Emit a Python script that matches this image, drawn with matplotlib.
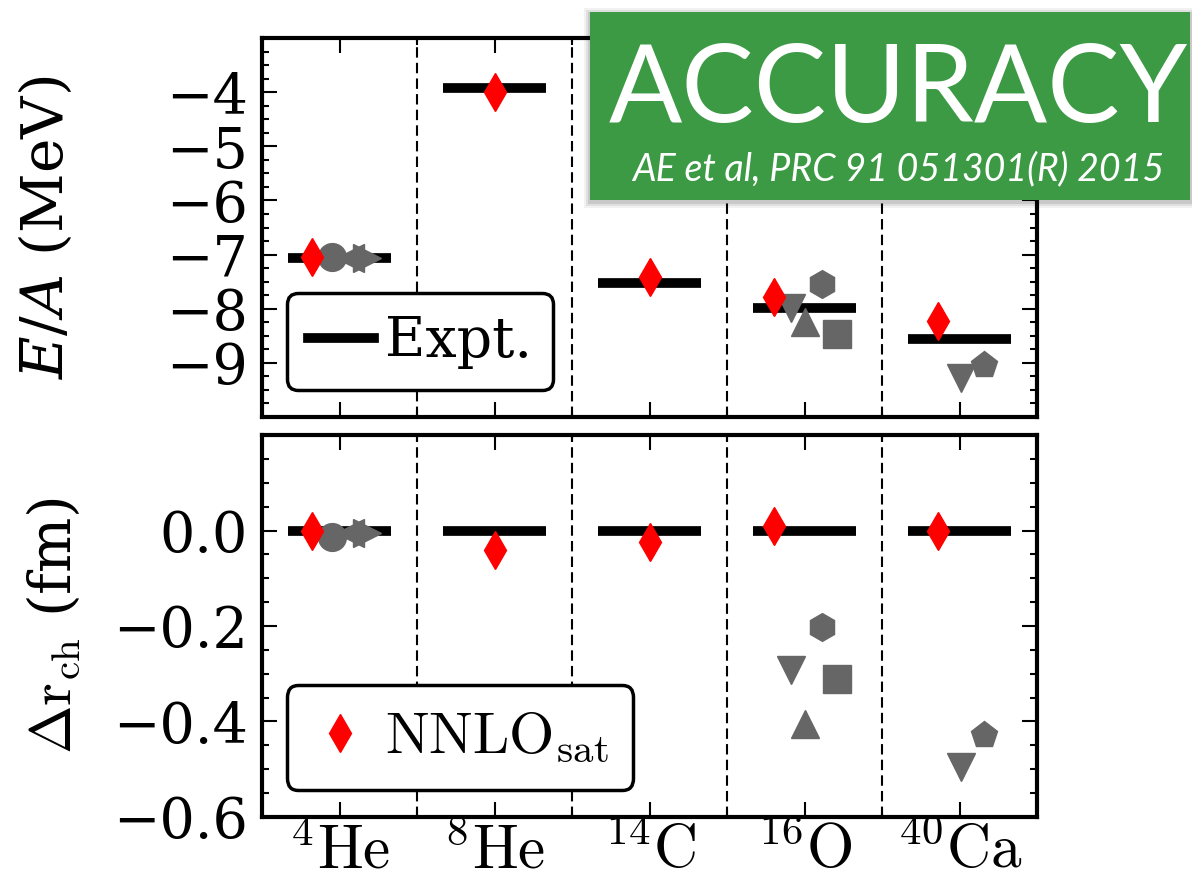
import matplotlib
matplotlib.use("Agg")
import matplotlib.pyplot as plt
from matplotlib.lines import Line2D
from matplotlib.patches import Rectangle
from matplotlib.ticker import FixedLocator, MultipleLocator

plt.rcParams['font.family'] = 'DejaVu Serif'
plt.rcParams['mathtext.fontset'] = 'cm'

nuclei = [r'$^{4}\mathrm{He}$', r'$^{8}\mathrm{He}$', r'$^{14}\mathrm{C}$',
          r'$^{16}\mathrm{O}$', r'$^{40}\mathrm{Ca}$']
pos = [0, 1, 2, 3, 4]

# experiment: E/A in MeV, radii are plotted as differences to expt.
expt_ea = [-7.07, -3.93, -7.52, -7.98, -8.55]
expt_dr = [0.0, 0.0, 0.0, 0.0, 0.0]

# NNLOsat
sat_x = [-0.18, 1.0, 2.0, 2.80, 3.86]
sat_ea = [-7.05, -4.00, -7.42, -7.79, -8.23]
sat_dr = [0.00, -0.04, -0.025, 0.01, 0.00]

# other chiral interactions (grey symbols)
circ_x, circ_ea, circ_dr = [-0.05], [-7.05], [-0.013]
tl_x, tl_ea, tl_dr = [0.07], [-7.06], [-0.006]
tr_x, tr_ea, tr_dr = [0.18], [-7.06], [-0.006]
tdown_x, tdown_ea, tdown_dr = [2.91, 4.01], [-7.98, -9.28], [-0.293, -0.495]
tup_x, tup_ea, tup_dr = [3.0], [-8.25], [-0.405]
sq_x, sq_ea, sq_dr = [3.21], [-8.47], [-0.31]
hex_x, hex_ea, hex_dr = [3.11], [-7.55], [-0.202]
pent_x, pent_ea, pent_dr = [4.16], [-9.04], [-0.428]

grey = '#666666'
others = [('o', circ_x, circ_ea, circ_dr), ('<', tl_x, tl_ea, tl_dr),
          ('>', tr_x, tr_ea, tr_dr), ('v', tdown_x, tdown_ea, tdown_dr),
          ('^', tup_x, tup_ea, tup_dr), ('s', sq_x, sq_ea, sq_dr),
          ('h', hex_x, hex_ea, hex_dr), ('p', pent_x, pent_ea, pent_dr)]

fig = plt.figure(figsize=(11.92, 8.82), dpi=100)
ax1 = fig.add_axes([0.2198, 0.5272, 0.6502, 0.4297])
ax2 = fig.add_axes([0.2198, 0.0737, 0.6502, 0.4331])

for ax, ex, sat, col in [(ax1, expt_ea, sat_ea, 2), (ax2, expt_dr, sat_dr, 3)]:
    for xv in [0.5, 1.5, 2.5, 3.5]:
        ax.axvline(xv, color='k', lw=1.5, ls=(0, (5, 2.5)), zorder=1)
    ax.hlines(ex, [p - 0.33 for p in pos], [p + 0.33 for p in pos],
              color='k', lw=7, zorder=2)
    for m, xs, ea, dr in others:
        ys = ea if col == 2 else dr
        ax.plot(xs, ys, ls='none', marker=m, ms=20, color=grey,
                mec=grey, zorder=3)
    ax.plot(sat_x, sat, ls='none', marker='d', ms=19, color='red',
            mec='red', zorder=4)

    ax.set_xlim(-0.5, 4.5)
    ax.xaxis.set_major_locator(FixedLocator(pos))
    ax.xaxis.set_minor_locator(FixedLocator([0.5, 1.5, 2.5, 3.5]))
    ax.tick_params(which='both', direction='in', top=True, right=True,
                   width=1.5)
    ax.tick_params(which='major', length=11, pad=10, labelsize=40)
    ax.tick_params(which='minor', length=5)
    for s in ax.spines.values():
        s.set_linewidth(3)

ax1.set_ylim(-10, -3)
ax1.yaxis.set_major_locator(FixedLocator([-9, -8, -7, -6, -5, -4]))
ax1.yaxis.set_minor_locator(MultipleLocator(0.25))
ax1.set_xticklabels([])
ax1.set_ylabel(r'$E/A$ (MeV)', fontsize=42, math_fontfamily='dejavuserif')
ax1.yaxis.set_label_coords(-0.241, 0.5)

ax2.set_ylim(-0.6, 0.2)
ax2.yaxis.set_major_locator(FixedLocator([-0.6, -0.4, -0.2, 0.0]))
ax2.yaxis.set_minor_locator(MultipleLocator(0.05))
ax2.set_xticklabels(nuclei, fontsize=44)
ax2.tick_params(axis='x', pad=3)
ax2.set_ylabel(r'$\Delta\mathrm{r}_{\mathrm{ch}}$ (fm)', fontsize=42)
ax2.yaxis.set_label_coords(-0.231, 0.5)

leg1 = ax1.legend([Line2D([], [], color='k', lw=7)], ['Expt.'],
                  loc='lower left', bbox_to_anchor=(0.032, 0.071),
                  borderaxespad=0, fontsize=40, handlelength=1.19,
                  handletextpad=0.2, borderpad=0.38, fancybox=True,
                  framealpha=1, edgecolor='k')
leg1.get_frame().set_linewidth(2.5)

leg2 = ax2.legend([Line2D([], [], ls='none', marker='d', ms=19, color='red')],
                  [r'$\mathrm{NNLO}_{\mathrm{sat}}$'],
                  loc='lower left', bbox_to_anchor=(0.032, 0.071),
                  borderaxespad=0, fontsize=42, handlelength=1.0,
                  handletextpad=0.26, borderpad=0.42, numpoints=1,
                  fancybox=True, framealpha=1, edgecolor='k')
leg2.get_frame().set_linewidth(2.5)

# green banner with a soft shadow
W, H = 1192.0, 882.0
bx0, by0, bx1, by1 = 590, 12, 1190, 200
for i, a in enumerate([0.05, 0.07, 0.1]):
    g = 6 - 2 * i
    fig.patches.append(Rectangle(((bx0 - g) / W, 1 - (by1 + g + 2) / H),
                                 (bx1 - bx0 + 2 * g) / W,
                                 (by1 - by0 + 2 * g) / H,
                                 transform=fig.transFigure, color='k',
                                 alpha=a, lw=0, zorder=10))
fig.patches.append(Rectangle((bx0 / W, 1 - by1 / H), (bx1 - bx0) / W,
                             (by1 - by0) / H, transform=fig.transFigure,
                             color='#3c9a45', lw=0, zorder=11))
fig.text(898 / W, 1 - 122 / H, 'ACCURACY', family='Lato', fontsize=78,
         color='white', ha='center', va='baseline', zorder=12)
fig.text(898 / W, 1 - 180 / H, 'AE et al, PRC 91 051301(R) 2015',
         family='Lato', style='italic', fontsize=27, color='white',
         ha='center', va='baseline', zorder=12)

fig.savefig('out.png', dpi=100)
